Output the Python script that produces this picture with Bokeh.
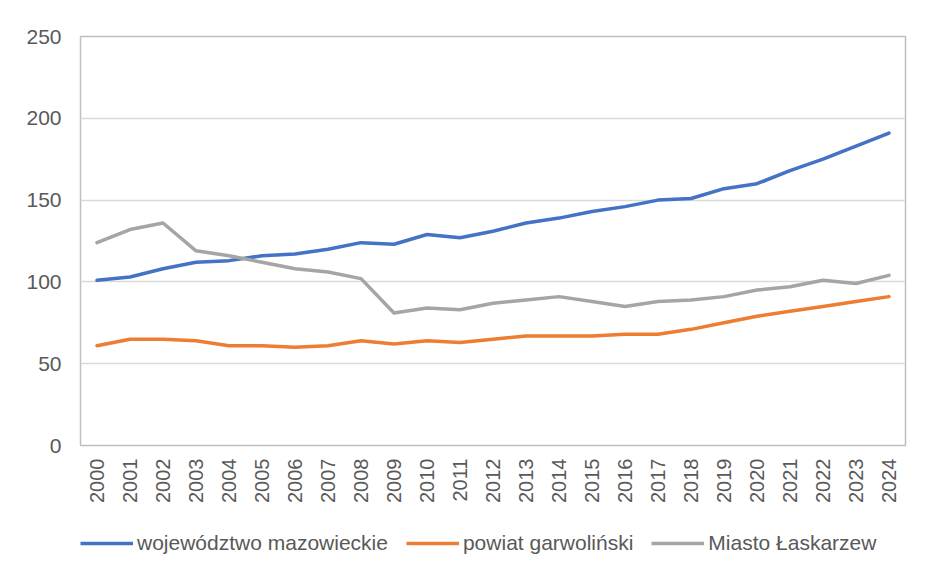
import math
from bokeh.plotting import figure
from bokeh.layouts import column
from bokeh.models import Legend, LegendItem, ColumnDataSource
from bokeh.embed import file_html
from bokeh.resources import INLINE

years = [str(y) for y in range(2000, 2025)]
mazowieckie = [101, 103, 108, 112, 113, 116, 117, 120, 124, 123, 129, 127, 131, 136, 139,
               143, 146, 150, 151, 157, 160, 168, 175, 183, 191]
garwolinski = [61, 65, 65, 64, 61, 61, 60, 61, 64, 62, 64, 63, 65, 67, 67,
               67, 68, 68, 71, 75, 79, 82, 85, 88, 91]
laskarzew = [124, 132, 136, 119, 116, 112, 108, 106, 102, 81, 84, 83, 87, 89, 91,
             88, 85, 88, 89, 91, 95, 97, 101, 99, 104]

series_names = ["województwo mazowieckie", "powiat garwoliński", "Miasto Łaskarzew"]
colors = ["#4472C4", "#ED7D31", "#A5A5A5"]

src = ColumnDataSource(dict(year=years, m=mazowieckie, g=garwolinski, l=laskarzew))

FONT = "Liberation Sans"
TXT = "#595959"

p = figure(x_range=years, y_range=(0, 250), width=917, height=510,
           min_border_left=80, min_border_right=12, min_border_top=36, min_border_bottom=65,
           output_backend="svg", toolbar_location=None)

for col, c in zip(["m", "g", "l"], colors):
    p.line("year", col, source=src, line_color=c, line_width=3.5, line_join="round", line_cap="round")

p.outline_line_color = "#BFBFBF"
p.outline_line_width = 1.5
p.xgrid.grid_line_color = None
p.ygrid.grid_line_color = "#D9D9D9"
p.ygrid.grid_line_width = 1.5

p.yaxis.ticker = [0, 50, 100, 150, 200, 250]
p.yaxis.axis_line_color = None
p.yaxis.major_tick_line_color = None
p.yaxis.minor_tick_line_color = None
p.yaxis.major_label_standoff = 13
p.yaxis.major_label_text_font = FONT
p.yaxis.major_label_text_font_size = "21px"
p.yaxis.major_label_text_color = TXT

p.xaxis.axis_line_color = None
p.xaxis.major_tick_line_color = None
p.xaxis.major_tick_out = 0
p.xaxis.major_label_orientation = math.pi / 2
p.xaxis.major_label_standoff = 13
p.xaxis.major_label_text_font = FONT
p.xaxis.major_label_text_font_size = "20px"
p.xaxis.major_label_text_color = TXT

# legend strip below the chart (proxy lines lie outside its visible range)
p2 = figure(width=917, height=50, x_range=years, y_range=(-1000, -999),
            min_border=0, output_backend="svg", toolbar_location=None)
p2.axis.visible = False
p2.grid.grid_line_color = None
p2.outline_line_color = None
leg_renderers = [p2.line("year", col, source=src, line_color=c, line_width=3.5)
                 for col, c in zip(["m", "g", "l"], colors)]

legend = Legend(items=[LegendItem(label=n, renderers=[r]) for n, r in zip(series_names, leg_renderers)],
                orientation="horizontal", location=(0, 5),
                label_text_font=FONT, label_text_font_size="21px", label_text_color=TXT,
                glyph_width=53, glyph_height=20, label_standoff=4, spacing=18,
                border_line_color=None, background_fill_alpha=0, padding=0, margin=0)
p2.add_layout(legend, "center")

layout = column(p, p2, spacing=0)
open("out.html", "w").write(file_html(layout, INLINE))
